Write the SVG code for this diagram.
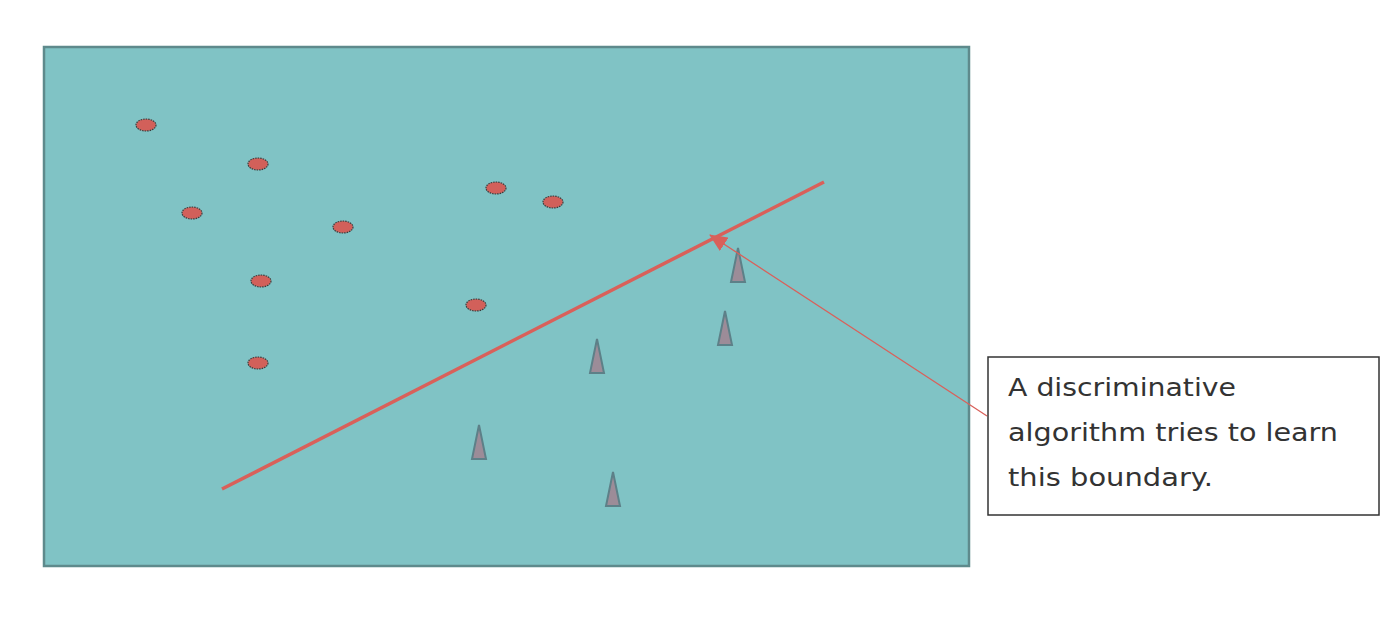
<svg xmlns="http://www.w3.org/2000/svg" width="1400" height="625" viewBox="0 0 1400 625">
<style>
.dot{fill:#d2605a;stroke:#3a3a3a;stroke-width:1.2;stroke-dasharray:1.5 1}
.tri{fill:#9c8c98;stroke:#5d8088;stroke-width:2}
.lbl{font-family:"DejaVu Sans",Verdana,sans-serif;font-size:25px;fill:#333}
</style>
<defs>
<marker id="ah" markerWidth="18" markerHeight="16" refX="17" refY="8" orient="auto" markerUnits="userSpaceOnUse" viewBox="0 0 18 16">
<path d="M0,0 L18,8 L0,16 z" fill="#d9605a"/>
</marker>
</defs>
<rect x="44" y="47" width="925" height="519" fill="#80c3c5" stroke="#5e8a8c" stroke-width="2.5"/>
<g id="circles">
<ellipse class="dot" cx="146" cy="125" rx="10" ry="6"/>
<ellipse class="dot" cx="258" cy="164" rx="10" ry="6"/>
<ellipse class="dot" cx="192" cy="213" rx="10" ry="6"/>
<ellipse class="dot" cx="343" cy="227" rx="10" ry="6"/>
<ellipse class="dot" cx="261" cy="281" rx="10" ry="6"/>
<ellipse class="dot" cx="258" cy="363" rx="10" ry="6"/>
<ellipse class="dot" cx="496" cy="188" rx="10" ry="6"/>
<ellipse class="dot" cx="553" cy="202" rx="10" ry="6"/>
<ellipse class="dot" cx="476" cy="305" rx="10" ry="6"/>
</g>
<g id="triangles">
<polygon class="tri" points="738,248 745,282 731,282"/>
<polygon class="tri" points="725,311 732,345 718,345"/>
<polygon class="tri" points="597,339 604,373 590,373"/>
<polygon class="tri" points="479,425 486,459 472,459"/>
<polygon class="tri" points="613,472 620,506 606,506"/>
</g>
<g id="connectors">
<line x1="222" y1="489" x2="824" y2="182" stroke="#d9605a" stroke-width="3.5"/>
<line x1="987" y1="416" x2="710" y2="235" stroke="#d9605a" stroke-width="1.3" marker-end="url(#ah)"/>
</g>
<g id="note">
<rect x="988" y="357" width="391" height="158" fill="#fff" stroke="#333" stroke-width="1.5"/>
<text class="lbl" x="1008" y="396" textLength="228" lengthAdjust="spacingAndGlyphs">A discriminative</text>
<text class="lbl" x="1008" y="441" textLength="330" lengthAdjust="spacingAndGlyphs">algorithm tries to learn</text>
<text class="lbl" x="1008" y="486" textLength="205" lengthAdjust="spacingAndGlyphs">this boundary.</text>
</g>
</svg>
